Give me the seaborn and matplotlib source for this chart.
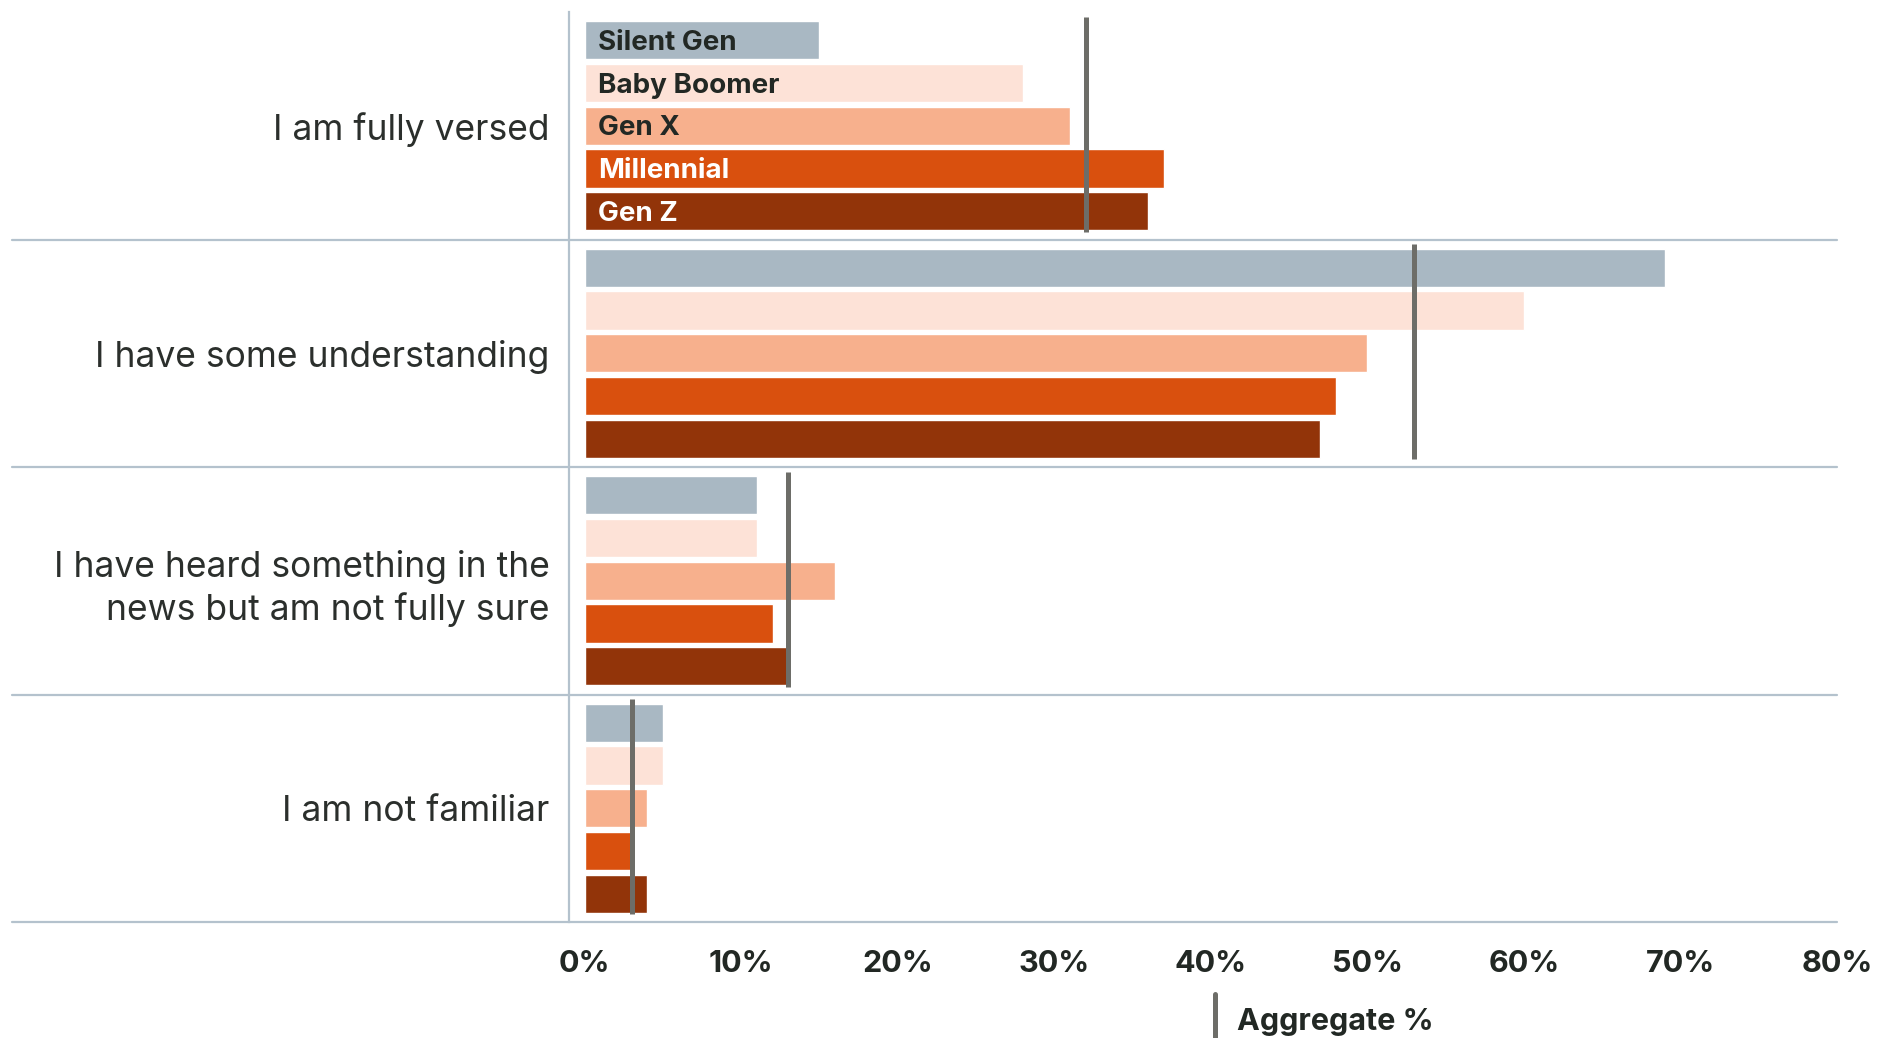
import matplotlib
matplotlib.use("Agg")
import matplotlib.pyplot as plt
from matplotlib.lines import Line2D
import seaborn as sns
import pandas as pd

categories = ["I am fully versed", "I have some understanding",
              "I have heard something in the\nnews but am not fully sure",
              "I am not familiar"]
generations = ["Silent Gen", "Baby Boomer", "Gen X", "Millennial", "Gen Z"]
silent_gen = [15, 69, 11, 5]
baby_boomer = [28, 60, 11, 5]
gen_x = [31, 50, 16, 4]
millennial = [37, 48, 12, 3]
gen_z = [36, 47, 13, 4]
aggregate = [32, 53, 13, 3]
x_ticks = [0, 10, 20, 30, 40, 50, 60, 70, 80]
x_tick_labels = ["0%", "10%", "20%", "30%", "40%", "50%", "60%", "70%", "80%"]

colors = ["#A9B8C3", "#FDE2D7", "#F7B08D", "#D9500E", "#923409"]
label_colors = ["#222824", "#222824", "#222824", "#FFFFFF", "#FFFFFF"]

series = [silent_gen, baby_boomer, gen_x, millennial, gen_z]
rows = []
for g, vals in zip(generations, series):
    for c, v in zip(categories, vals):
        rows.append({"category": c, "generation": g, "value": v})
df = pd.DataFrame(rows)

sns.set_style("white")
plt.rcParams["font.family"] = ["Inter", "DejaVu Sans"]

fig = plt.figure(figsize=(18.77, 10.38), dpi=100)
ax = fig.add_axes([569 / 1877, 1 - 922 / 1038, (1837 - 569) / 1877, (922 - 12) / 1038])

sns.barplot(data=df, y="category", x="value", hue="generation", orient="h",
            order=categories, hue_order=generations,
            palette=dict(zip(generations, colors)), width=0.94, gap=0.105,
            legend=False, ax=ax, saturation=1, errorbar=None)

ax.set_xlim(-1.0, 80)
ax.set_ylim(3.5, -0.5)

grid_c = "#B4C2CD"
for yb in [0.5, 1.5, 2.5, 3.5]:
    ax.axhline(yb, xmin=-0.4393, xmax=1.0, color=grid_c, lw=1.6, clip_on=False, zorder=1)

# aggregate markers
ax.vlines(aggregate, [i - 0.48 for i in range(len(categories))],
          [i + 0.465 for i in range(len(categories))],
          color="#6D6D68", lw=3.6, zorder=5)

for s in ["top", "right", "bottom"]:
    ax.spines[s].set_visible(False)
ax.spines["left"].set_color(grid_c)
ax.spines["left"].set_linewidth(1.6)

ax.set_xticks(x_ticks)
ax.set_xticklabels(x_tick_labels, fontsize=22, fontweight="bold", color="#222824")
ax.tick_params(axis="x", length=0, pad=20)
ax.tick_params(axis="y", length=0, pad=14)
for lab in ax.get_yticklabels():
    lab.set_fontsize(25.5)
    lab.set_color("#2B2F2C")
    lab.set_horizontalalignment("right")
    lab.set_multialignment("right")
    lab.set_linespacing(1.3)
ax.set_xlabel("")
ax.set_ylabel("")

# generation labels inside first group
for cont, g, lc in zip(ax.containers, generations, label_colors):
    p = cont.patches[0]
    ax.text(0.85, p.get_y() + p.get_height() / 2 + 0.012, g, ha="left", va="center",
            fontsize=20, fontweight="bold", color=lc, zorder=6)

# legend
fig.add_artist(Line2D([1215 / 1877, 1215 / 1877], [0, 1 - 994 / 1038],
                      color="#6D6D68", lw=3.6, transform=fig.transFigure))
fig.text(1237 / 1877, 1 - 1022 / 1038, "Aggregate %", ha="left", va="center",
         fontsize=22, fontweight="bold", color="#222824")

fig.savefig("out.png", dpi=100)
